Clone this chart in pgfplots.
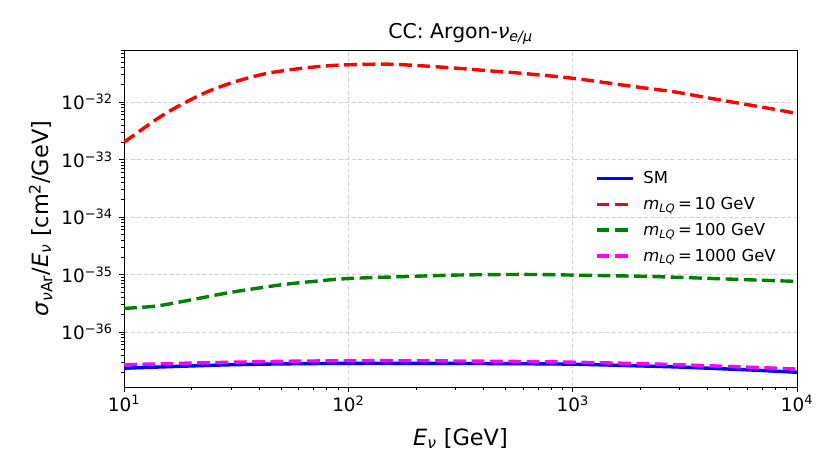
\documentclass[border=0pt]{standalone}
\usepackage{fontspec}
\setmainfont{DejaVu Sans}
\usepackage{pgfplots}
\pgfplotsset{compat=1.18}
\definecolor{mplgreen}{RGB}{0,128,0}
\definecolor{mplmagenta}{RGB}{255,0,255}
\definecolor{mplred}{RGB}{255,0,0}
\definecolor{mplblue}{RGB}{0,0,255}
\begin{document}
\begin{tikzpicture}
\path[use as bounding box] (-124bp,-88bp) rectangle (706bp,387bp);
\begin{axis}[
  at={(0,0)}, anchor=south west,
  scale only axis, width=673bp, height=337bp,
  xmode=log, ymode=log,
  xmin=10, xmax=10000, ymin=1.104e-37, ymax=8.02e-32,
  xtick={10,100,1000,10000},
  xticklabels={10\textsuperscript{1},10\textsuperscript{2},10\textsuperscript{3},10\textsuperscript{4}},
  ytick={1e-36,1e-35,1e-34,1e-33,1e-32},
  yticklabels={10\textsuperscript{−36},10\textsuperscript{−35},10\textsuperscript{−34},10\textsuperscript{−33},10\textsuperscript{−32}},
  minor xtick={20,30,40,50,60,70,80,90,200,300,400,500,600,700,800,900,2000,3000,4000,5000,6000,7000,8000,9000},
  minor ytick={2e-37,3e-37,4e-37,5e-37,6e-37,7e-37,8e-37,9e-37,
               2e-36,3e-36,4e-36,5e-36,6e-36,7e-36,8e-36,9e-36,
               2e-35,3e-35,4e-35,5e-35,6e-35,7e-35,8e-35,9e-35,
               2e-34,3e-34,4e-34,5e-34,6e-34,7e-34,8e-34,9e-34,
               2e-33,3e-33,4e-33,5e-33,6e-33,7e-33,8e-33,9e-33,
               2e-32,3e-32,4e-32,5e-32,6e-32,7e-32,8e-32},
  tick pos=left, tick align=outside,
  major tick length=5bp, minor tick length=3bp,
  tick style={black, line width=0.8bp},
  minor tick style={black, line width=0.6bp},
  axis line style={line width=1bp},
  grid=major,
  major grid style={black!18, line width=0.8bp, dash pattern=on 4bp off 2.5bp},
  ticklabel style={font=\fontsize{18.5}{21}\selectfont},
  yticklabel style={xshift=-3bp},
  title={CC: Argon-\textit{ν}\textsubscript{\textit{e/μ}}},
  title style={at={(rel axis cs:0.5,1)}, anchor=base, yshift=6bp, font=\fontsize{20.5}{24}\selectfont},
  xlabel={\textit{E}\textsubscript{\textit{ν}} [GeV]},
  xlabel style={at={(rel axis cs:0.5,0)}, anchor=base, yshift=-58bp, font=\fontsize{22.5}{26}\selectfont},
  ylabel={\textit{σ}\textsubscript{\textit{ν}Ar}/\textit{E}\textsubscript{\textit{ν}} [cm\textsuperscript{2}/GeV]},
  ylabel style={at={(rel axis cs:0,0.5)}, anchor=base, yshift=76bp, font=\fontsize{22.5}{26}\selectfont},
  every axis plot/.append style={line width=3.4bp},
  legend image code/.code={\draw[#1] (0bp,0bp) -- (36bp,0bp);},
  legend cell align=left,
  legend style={draw=none, fill=none, at={(rel axis cs:0.695,0.652)}, anchor=north west,
    font=\fontsize{16.5}{19}\selectfont, row sep=8.2bp,
    /tikz/every odd column/.append style={column sep=7bp}},
]
\addplot[mplblue, smooth] coordinates {
(10,2.344e-37)(20,2.570e-37)(30,2.692e-37)(50,2.786e-37)(100,2.851e-37)(200,2.851e-37)
(500,2.818e-37)(1000,2.754e-37)(2000,2.570e-37)(3000,2.455e-37)(5000,2.265e-37)(7000,2.138e-37)(10000,1.995e-37)};
\addlegendentry{SM}
\addplot[mplred, smooth, dash pattern=on 12.8bp off 5.5bp] coordinates {
(10,1.995e-33)(14.1,5.129e-33)(17.9,8.913e-33)(23.6,1.514e-32)(31.1,2.239e-32)(42.4,3.090e-32)(59.9,3.802e-32)
(84.5,4.315e-32)(120,4.519e-32)(155,4.539e-32)(218,4.236e-32)(307,3.864e-32)(433,3.467e-32)(611,3.126e-32)
(1000,2.588e-32)(1442,2.138e-32)(2032,1.778e-32)(2864,1.493e-32)(4037,1.175e-32)(5689,9.333e-33)(8017,7.413e-33)(10000,6.310e-33)};
\addlegendentry{\textit{m}\textsubscript{\textit{LQ}}\,=\,10 GeV}
\addplot[mplgreen, smooth, dash pattern=on 12.8bp off 5.5bp] coordinates {
(10,2.570e-36)(13,2.754e-36)(15,2.951e-36)(20,3.631e-36)(30,4.898e-36)(50,6.607e-36)(70,7.586e-36)
(100,8.511e-36)(200,9.333e-36)(300,9.772e-36)(500,1.0e-35)(700,1.0e-35)(1000,9.772e-36)
(2000,9.333e-36)(3000,8.913e-36)(5000,8.318e-36)(7000,7.943e-36)(10000,7.586e-36)};
\addlegendentry{\textit{m}\textsubscript{\textit{LQ}}\,=\,100 GeV}
\addplot[mplmagenta, smooth, dash pattern=on 12.8bp off 5.5bp] coordinates {
(10,2.692e-37)(20,2.884e-37)(50,3.090e-37)(100,3.162e-37)(200,3.162e-37)(500,3.090e-37)
(1000,2.985e-37)(2000,2.818e-37)(3000,2.692e-37)(5000,2.512e-37)(7000,2.399e-37)(10000,2.265e-37)};
\addlegendentry{\textit{m}\textsubscript{\textit{LQ}}\,=\,1000 GeV}
\end{axis}
\end{tikzpicture}
\end{document}
